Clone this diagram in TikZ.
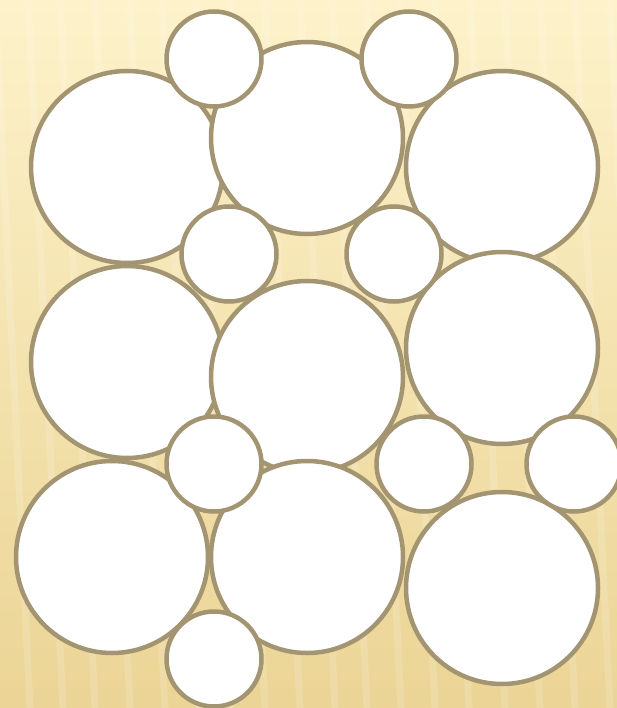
\documentclass[tikz,border=0pt]{standalone}
\usetikzlibrary{shadings}
\definecolor{ringcol}{HTML}{A39571}
\definecolor{bglight}{HTML}{FDF2CA}
\definecolor{bgdark}{HTML}{EBD495}
\tikzset{
  bigc/.style={circle, draw=ringcol, fill=white, line width=4.5pt, minimum size=192pt, inner sep=0pt},
  smallc/.style={circle, draw=ringcol, fill=white, line width=4.5pt, minimum size=95pt, inner sep=0pt},
  stripe/.style={white, opacity=0.15, line width=7pt}
}
\begin{document}
\begin{tikzpicture}[x=1pt,y=-1pt]
\useasboundingbox (0,0) rectangle (617,708);
\shade[shading=axis, shading angle=-40, top color=bglight, bottom color=bgdark] (0,0) rectangle (617,708);
\begin{scope}
\clip (0,0) rectangle (617,708);
\foreach \x in {-40,-5,28,60,95,130,162,196,230,265,300,332,366,400,434,470,505,540,575,610,645}
  \draw[stripe] (\x,0) -- (\x+35,708);
\end{scope}
% big circles
\node[bigc] (b1) at (127,167) {};
\node[bigc] (b2) at (307,138) {};
\node[bigc] (b3) at (502,167) {};
\node[bigc] (b4) at (127,362) {};
\node[bigc] (b5) at (307,377) {};
\node[bigc] (b6) at (502,348) {};
\node[bigc] (b7) at (112,557) {};
\node[bigc] (b8) at (307,557) {};
\node[bigc] (b9) at (502,588) {};
% small circles
\node[smallc] (s1) at (214,59) {};
\node[smallc] (s2) at (409,59) {};
\node[smallc] (s3) at (229,254) {};
\node[smallc] (s4) at (394,254) {};
\node[smallc] (s5) at (214,464) {};
\node[smallc] (s6) at (424,464) {};
\node[smallc] (s7) at (574,464) {};
\node[smallc] (s8) at (214,659) {};
\end{tikzpicture}
\end{document}
